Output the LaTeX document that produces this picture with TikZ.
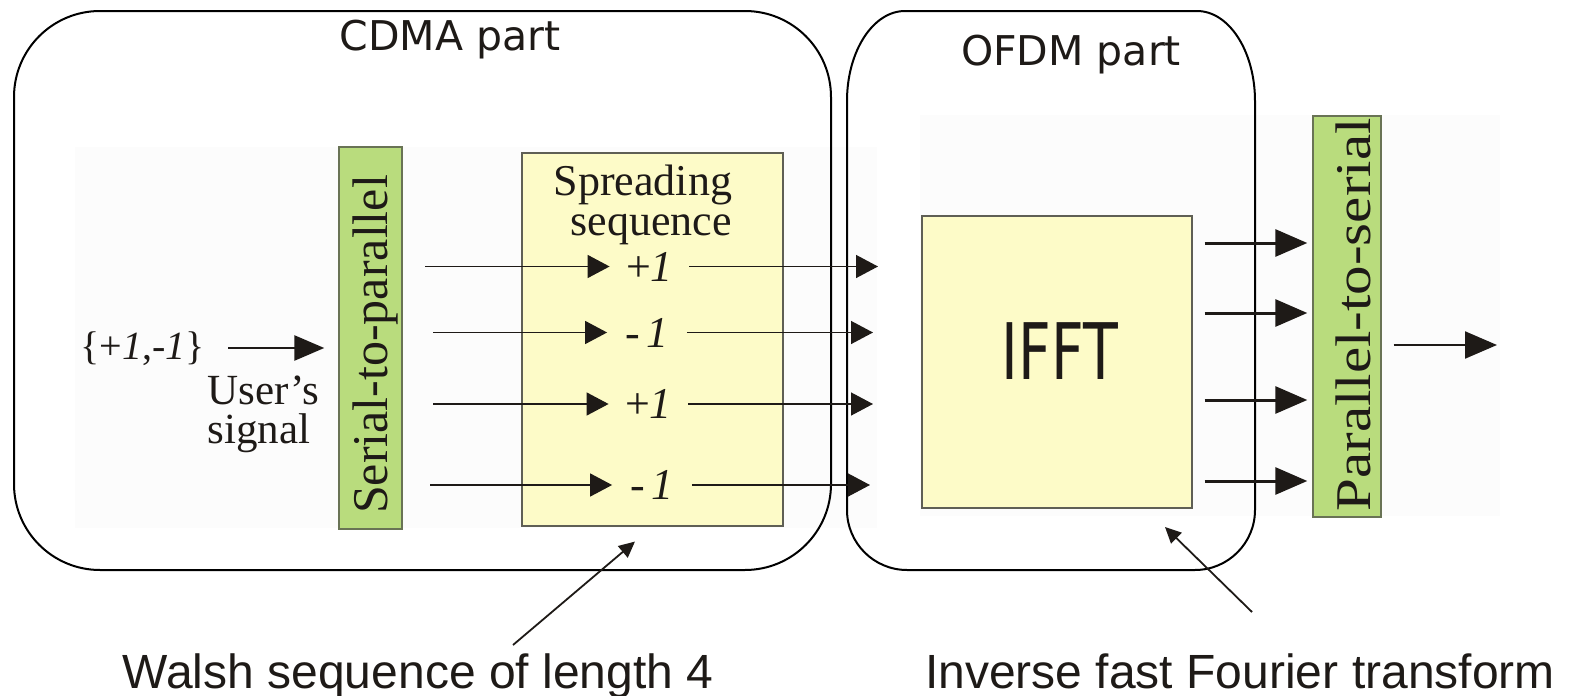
\documentclass[tikz,border=0pt]{standalone}
\usepackage{fontspec}
\setmainfont{Liberation Serif}
\newfontfamily\dvsans{DejaVu Sans}
\newfontfamily\lsans{Liberation Sans}
\usetikzlibrary{arrows.meta}
\definecolor{spgreen}{RGB}{185,220,125}
\definecolor{spedge}{RGB}{105,115,85}
\definecolor{ssyellow}{RGB}{253,251,200}
\definecolor{ssedge}{RGB}{95,95,85}
\definecolor{ink}{RGB}{30,26,23}
\definecolor{faint}{RGB}{252,252,252}
\tikzset{
  frame/.style={draw=black, line width=1pt},
  spbox/.style={draw=spedge, fill=spgreen, line width=0.7pt, inner sep=0pt},
  ssbox/.style={draw=ssedge, fill=ssyellow, line width=0.7pt, inner sep=0pt},
  txt/.style={inner sep=0pt, text=ink},
  toplbl/.style={txt, font=\dvsans\fontsize{20.5}{24}\selectfont},
  botlbl/.style={txt, font=\lsans\fontsize{24}{28}\selectfont},
  serifmid/.style={txt, font=\fontsize{22}{24}\selectfont},
  usrtxt/.style={txt, font=\fontsize{21.5}{24}\selectfont},
  sidetxt/.style={txt, rotate=90, font=\fontsize{25}{28}\selectfont},
  val/.style={txt, minimum width=39.5pt, font=\fontsize{22}{24}\selectfont},
  thinarrow/.style={draw=ink, line width=0.7pt, -{Triangle[length=11pt,width=11.5pt]}},
  thickarrow/.style={draw=ink, line width=1.5pt, -{Triangle[length=16pt,width=13.5pt]}},
  inarrow/.style={draw=ink, line width=1.3pt, -{Triangle[length=15pt,width=12.5pt]}},
  outarrow/.style={draw=ink, line width=1.1pt, -{Triangle[length=16pt,width=13.5pt]}},
  ptr/.style={draw=ink, line width=0.9pt, -{Triangle[length=8pt,width=7.5pt]}}
}
\begin{document}
\begin{tikzpicture}[x=0.5pt,y=-0.5pt]
\useasboundingbox (0,0) rectangle (1571,696);
\fill[white] (0,0) rectangle (1571,696);
% faint pasted backgrounds
\fill[faint] (75,147) rectangle (877,528);
\fill[faint] (920,115) rectangle (1500,516);

% CDMA frame
\draw[frame, rounded corners=43pt] (14,11) rectangle (831,570);
% OFDM frame
\draw[frame] (905,11) -- (1197,11)
  .. controls (1229,11) and (1255,51.3) .. (1255,101)
  -- (1255,510)
  .. controls (1255,543.1) and (1228.1,570) .. (1195,570)
  -- (907,570)
  .. controls (873.9,570) and (847,543.1) .. (847,510)
  -- (847,101)
  .. controls (847,51.3) and (873,11) .. (905,11) -- cycle;

\node[toplbl, anchor=base] (cdmalbl) at (450,50) {CDMA part};
\node[toplbl, anchor=base] (ofdmlbl) at (1071,65) {OFDM part};

% Serial-to-parallel
\node[spbox, minimum width=31.5pt, minimum height=191pt] (sp) at (370.5,338) {};
\node[sidetxt] (spt) at (375,344.5) {Serial-to-parallel};

% Spreading sequence box
\node[ssbox, minimum width=130.5pt, minimum height=186.5pt] (ss) at (652.5,339.5) {};
\node[serifmid, anchor=base] (sst1) at (643,195) {Spreading};
\node[serifmid, anchor=base] (sst2) at (651,235) {sequence};

% values
\node[val] (v1) at (649.5,266.5) {+\textit{1}};
\node[val] (v2) at (647,332.5) {-\,\textit{1}};
\node[val] (v3) at (648.5,404) {+\textit{1}};
\node[val] (v4) at (652,485) {-\,\textit{1}};

\coordinate (l1) at (425,266.5);
\coordinate (l2) at (433,332.5);
\coordinate (l3) at (433,404);
\coordinate (l4) at (430,485);
\coordinate (r1) at (878,266.5);
\coordinate (r2) at (873,332.5);
\coordinate (r3) at (873,404);
\coordinate (r4) at (870,485);

\draw[thinarrow] (l1) -- (v1.west);
\draw[thinarrow] (l2) -- (v2.west);
\draw[thinarrow] (l3) -- (v3.west);
\draw[thinarrow] (l4) -- (v4.west);
\draw[thinarrow] (v1.east) -- (r1);
\draw[thinarrow] (v2.east) -- (r2);
\draw[thinarrow] (v3.east) -- (r3);
\draw[thinarrow] (v4.east) -- (r4);

% input
\node[txt, font=\fontsize{20}{22}\selectfont] (insig) at (142.5,349) {\{+\textit{1},-\textit{1}\}};
\coordinate (inst) at (228,348);
\draw[inarrow, shorten >=7pt] (inst) -- (sp.west |- inst);
\node[usrtxt, anchor=base west] (usr1) at (207,404) {User’s};
\node[usrtxt, anchor=base west] (usr2) at (207,443) {signal};

% IFFT
\node[ssbox, minimum width=135pt, minimum height=146pt] (ifft) at (1057,362) {};
\node[txt, font=\dvsans\fontsize{39}{40}\selectfont, xscale=0.73] (iffttxt) at (1060,351.5) {IFFT};

% Parallel-to-serial
\node[spbox, minimum width=34pt, minimum height=200.5pt] (ps) at (1347,316.5) {};
\node[sidetxt] (pst) at (1353.5,315) {\scalebox{1.18}[1]{Parallel-to-serial}};

\coordinate (ya) at (0,243);
\coordinate (yb) at (0,313);
\coordinate (yc) at (0,400);
\coordinate (yd) at (0,481);
\draw[thickarrow, shorten <=6pt, shorten >=2.5pt] (ifft.east |- ya) -- (ps.west |- ya);
\draw[thickarrow, shorten <=6pt, shorten >=2.5pt] (ifft.east |- yb) -- (ps.west |- yb);
\draw[thickarrow, shorten <=6pt, shorten >=2.5pt] (ifft.east |- yc) -- (ps.west |- yc);
\draw[thickarrow, shorten <=6pt, shorten >=2.5pt] (ifft.east |- yd) -- (ps.west |- yd);

\coordinate (outend) at (1497,345);
\draw[outarrow, shorten <=6pt] (ps.east |- outend) -- (outend);

% bottom labels and pointers
\node[botlbl, anchor=base] (walsh) at (418,688) {Walsh sequence of length 4};
\node[botlbl, anchor=base] (iflbl) at (1240,688) {Inverse fast Fourier transform};
\coordinate (wp) at (513,645);
\draw[ptr, shorten >=11.5pt] (wp) -- (ss.south);
\coordinate (ip) at (1252,612);
\coordinate (it) at (1165,527);
\draw[ptr] (ip) -- (it);
\end{tikzpicture}
\end{document}
